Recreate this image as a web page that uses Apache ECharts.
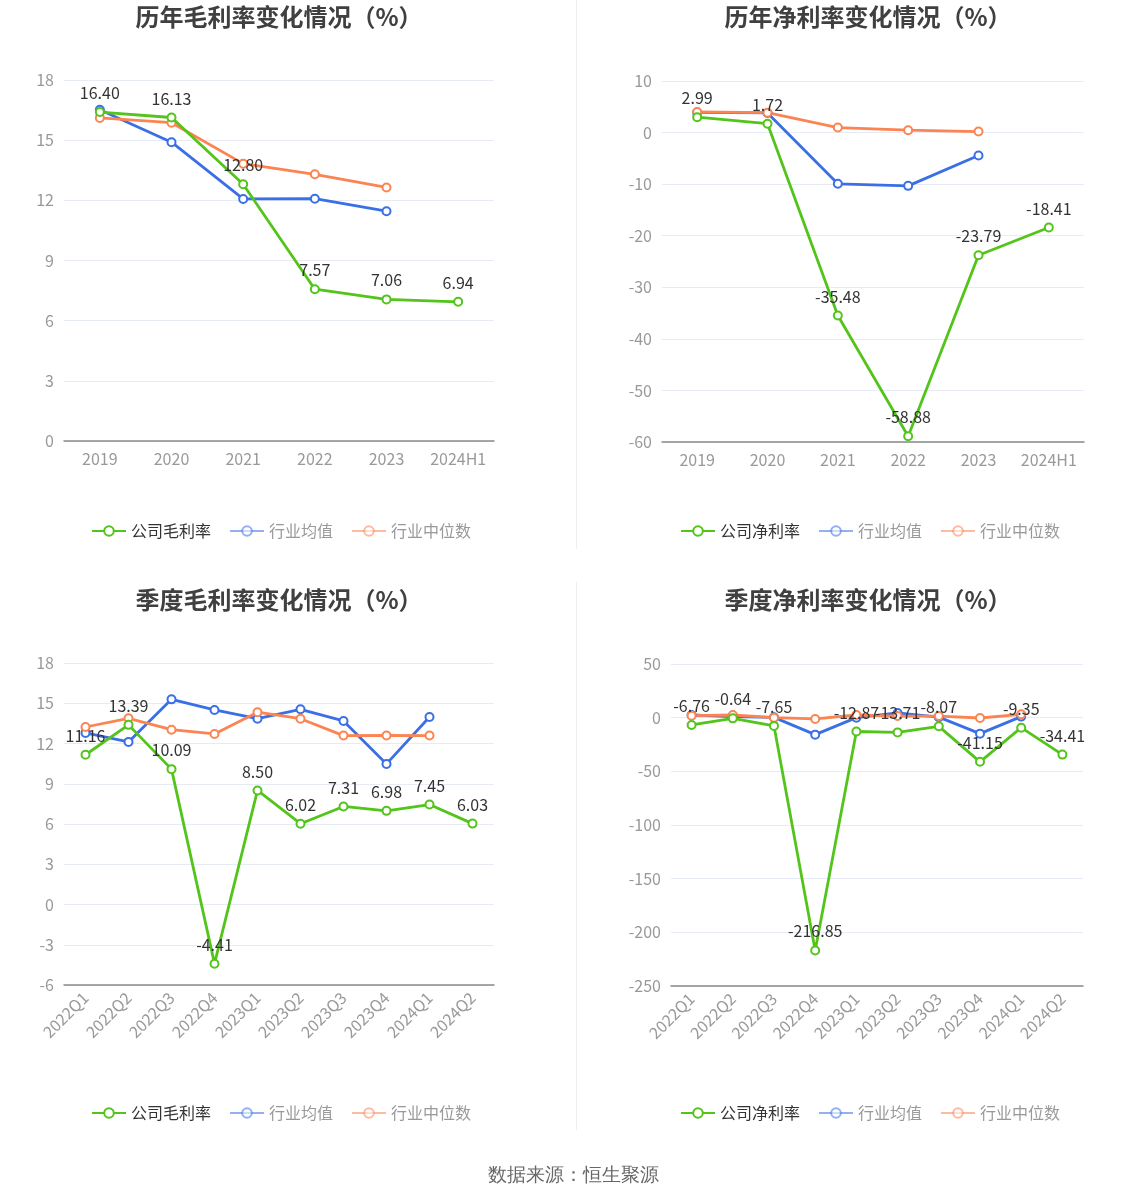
<!DOCTYPE html>
<html>
<head>
<meta charset="utf-8">
<script src="https://cdn.jsdelivr.net/npm/echarts@6/dist/echarts.min.js"></script>
<style>
  html, body { margin: 0; padding: 0; background: #fff; }
  #chart { width: 1147px; height: 1202px; }
</style>
</head>
<body>
<div id="chart"></div>
<script>
// categories
const years = ['2019', '2020', '2021', '2022', '2023', '2024H1']
const quarters = ['2022Q1', '2022Q2', '2022Q3', '2022Q4', '2023Q1', '2023Q2', '2023Q3', '2023Q4', '2024Q1', '2024Q2']

// 历年毛利率
const yearGross = [16.40, 16.13, 12.80, 7.57, 7.06, 6.94]
const yearGrossAvg = [16.52, 14.90, 12.07, 12.08, 11.46]
const yearGrossMid = [16.11, 15.87, 13.83, 13.30, 12.64]

// 历年净利率
const yearNet = [2.99, 1.72, -35.48, -58.88, -23.79, -18.41]
const yearNetAvg = [3.9, 3.8, -9.94, -10.33, -4.45]
const yearNetMid = [4.0, 3.85, 0.97, 0.46, 0.2]

// 季度毛利率
const qGross = [11.16, 13.39, 10.09, -4.41, 8.50, 6.02, 7.31, 6.98, 7.45, 6.03]
const qGrossAvg = [12.79, 12.12, 15.29, 14.50, 13.85, 14.55, 13.68, 10.48, 13.98]
const qGrossMid = [13.23, 13.88, 13.03, 12.71, 14.33, 13.85, 12.59, 12.60, 12.59]

// 季度净利率
const qNet = [-6.76, -0.64, -7.65, -216.85, -12.87, -13.71, -8.07, -41.15, -9.35, -34.41]
const qNetAvg = [2.5, 1.0, 0.3, -15.8, 0.0, 4.4, 0.5, -14.9, 1.0]
const qNetMid = [1.9, 2.5, 0.0, -1.2, 2.5, 1.5, 1.5, -0.3, 3.1]

const GREEN = '#52c41a', BLUE = '#3a6fe5', ORANGE = '#fc8452'
const FONT = '"Noto Sans CJK SC", "Noto Sans", sans-serif'

const panels = [
  { title: '历年毛利率变化情况（%）', name: '公司毛利率', cats: years, vals: [yearGross, yearGrossAvg, yearGrossMid],
    grid: { left: 64, top: 80, width: 430, height: 361 }, y: [0, 18, 3], tx: 274, ty: 0, lx: 86, ly: 518, rot: 0 },
  { title: '历年净利率变化情况（%）', name: '公司净利率', cats: years, vals: [yearNet, yearNetAvg, yearNetMid],
    grid: { left: 662, top: 81, width: 422, height: 361 }, y: [-60, 10, 10], tx: 863, ty: 0, lx: 675, ly: 518, rot: 0 },
  { title: '季度毛利率变化情况（%）', name: '公司毛利率', cats: quarters, vals: [qGross, qGrossAvg, qGrossMid],
    grid: { left: 64, top: 663, width: 430, height: 322 }, y: [-6, 18, 3], tx: 274, ty: 583, lx: 86, ly: 1100, rot: 45 },
  { title: '季度净利率变化情况（%）', name: '公司净利率', cats: quarters, vals: [qNet, qNetAvg, qNetMid],
    grid: { left: 671, top: 664, width: 412, height: 322 }, y: [-250, 50, 50], tx: 863, ty: 583, lx: 675, ly: 1100, rot: 45 },
]

const title = [], legend = [], grid = [], xAxis = [], yAxis = [], series = []

panels.forEach((p, i) => {
  title.push({
    text: p.title, left: p.tx, top: p.ty, textAlign: 'center',
    textStyle: { fontSize: 24, fontWeight: 'bold', color: '#404040', fontFamily: FONT },
  })
  legend.push({
    left: p.lx, top: p.ly, width: 460, itemWidth: 34, itemHeight: 12, itemGap: 18,
    textStyle: { fontSize: 16, color: '#333', fontFamily: FONT },
    data: [
      { name: p.name },
      { name: '行业均值', textStyle: { color: '#999' }, itemStyle: { opacity: 0.55 }, lineStyle: { opacity: 0.55 } },
      { name: '行业中位数', textStyle: { color: '#999' }, itemStyle: { opacity: 0.55 }, lineStyle: { opacity: 0.55 } },
    ],
  })
  grid.push(p.grid)
  // labels axis at the bottom
  xAxis.push({
    gridIndex: i, type: 'category', data: p.cats, position: 'bottom',
    axisLine: { show: false }, axisTick: { show: false },
    axisLabel: { color: '#999', fontSize: 16, fontFamily: FONT, margin: 10, rotate: p.rot, interval: 0 },
  })
  // zero line axis with ticks
  xAxis.push({
    gridIndex: i, type: 'category', data: p.cats, position: 'bottom',
    axisLine: { onZero: true, lineStyle: { color: '#8a8a8a', width: 1.5 } },
    axisTick: { alignWithLabel: true, length: 6, lineStyle: { color: '#8a8a8a' } },
    axisLabel: { show: false },
  })
  yAxis.push({
    gridIndex: i, type: 'value', min: p.y[0], max: p.y[1], interval: p.y[2],
    axisLine: { show: false }, axisTick: { show: false },
    axisLabel: { color: '#999', fontSize: 16, fontFamily: FONT, margin: 10 },
    splitLine: { lineStyle: { color: '#e6ebf5' } },
  })
  const names = [p.name, '行业均值', '行业中位数']
  const colors = [GREEN, BLUE, ORANGE]
  // draw company line last so it sits on top
  ;[1, 2, 0].forEach(k => {
    series.push({
      name: names[k], type: 'line', xAxisIndex: i * 2, yAxisIndex: i, data: p.vals[k],
      symbol: 'emptyCircle', symbolSize: 8, z: k === 0 ? 5 : 3,
      lineStyle: { width: 2.8, color: colors[k] },
      itemStyle: { color: colors[k], borderWidth: 2 },
      label: k === 0 ? {
        show: true, position: 'top', fontSize: 16, color: '#333', fontFamily: FONT, distance: 6,
        formatter: d => d.value.toFixed(2),
      } : { show: false },
      emphasis: { disabled: true },
    })
  })
})

const chart = echarts.init(document.getElementById('chart'))
chart.setOption({
  animation: false,
  color: [GREEN, BLUE, ORANGE],
  title, legend, grid, xAxis, yAxis, series,
  graphic: [
    { type: 'line', shape: { x1: 576.5, y1: 0, x2: 576.5, y2: 549 }, style: { stroke: '#eeeeee', lineWidth: 1 } },
    { type: 'line', shape: { x1: 576.5, y1: 582, x2: 576.5, y2: 1130 }, style: { stroke: '#eeeeee', lineWidth: 1 } },
    { type: 'text', left: 'center', top: 1166,
      style: { text: '数据来源：恒生聚源', fontSize: 19, fill: '#666', font: '19px ' + FONT } },
  ],
})
</script>
</body>
</html>
